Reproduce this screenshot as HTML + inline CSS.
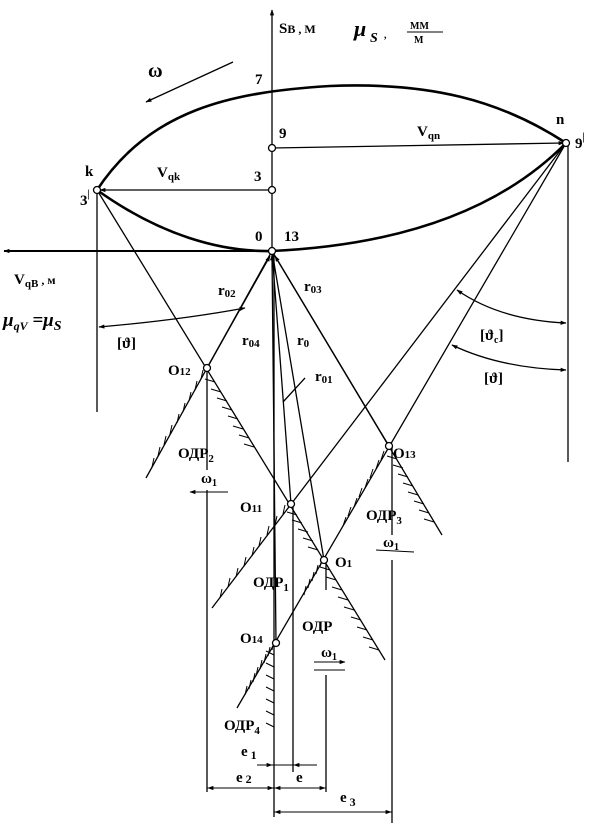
<!DOCTYPE html>
<html><head><meta charset="utf-8"><style>
html,body{margin:0;padding:0;background:#fff}
svg{display:block}
text{font-family:"Liberation Serif",serif;font-weight:bold;fill:#000}
</style></head><body>
<svg width="600" height="831" viewBox="0 0 600 831" xmlns="http://www.w3.org/2000/svg">
<defs>
<marker id="a" viewBox="0 0 10 10" refX="9" refY="5" markerUnits="userSpaceOnUse" markerWidth="11" markerHeight="6" orient="auto-start-reverse"><path d="M0,1.5 L10,5 L0,8.5 z" fill="#000"/></marker>
</defs>
<g stroke="#000" fill="none" stroke-width="1.3">
<line x1="272" y1="251" x2="272" y2="10" marker-end="url(#a)"/>
<line x1="272" y1="251" x2="4" y2="251" marker-end="url(#a)" stroke-width="2"/>
<line x1="274" y1="251" x2="274" y2="817"/>
<path d="M97,190 C150,110 230,92 330,86 C430,82 500,100 566,143" stroke-width="2.6"/>
<path d="M97,190 C160,235 220,252 272,251 C400,245 500,210 566,143" stroke-width="2.6"/>
<line x1="272" y1="148" x2="564" y2="143" marker-end="url(#a)"/>
<line x1="272" y1="190" x2="100" y2="190" marker-end="url(#a)"/>
<line x1="97" y1="190" x2="97" y2="412"/>
<line x1="568" y1="143" x2="568" y2="462"/>
<line x1="97" y1="190" x2="385" y2="660"/>
<line x1="272" y1="251" x2="146" y2="478"/>
<line x1="566" y1="143" x2="237" y2="708"/>
<line x1="566" y1="143" x2="212" y2="608"/>
<line x1="272" y1="251" x2="442" y2="535"/>
<line x1="272" y1="251" x2="324" y2="560"/>
<line x1="272" y1="251" x2="291" y2="504"/>
<line x1="276" y1="643" x2="272" y2="255" marker-end="url(#a)"/>
<line x1="207" y1="368" x2="270" y2="256" marker-end="url(#a)"/>
<line x1="389" y1="446" x2="275" y2="256" marker-end="url(#a)"/>
<line x1="283" y1="402" x2="305" y2="378"/>
<line x1="207" y1="368" x2="207" y2="470"/>
<line x1="207" y1="490" x2="207" y2="792"/>
<line x1="293" y1="504" x2="293" y2="772"/>
<line x1="326" y1="560" x2="326" y2="590"/>
<line x1="326" y1="675" x2="326" y2="792"/>
<line x1="392" y1="446" x2="392" y2="535"/>
<line x1="392" y1="560" x2="392" y2="823"/>
<line x1="233" y1="62" x2="146" y2="102" marker-end="url(#a)"/>
<path d="M99,327 Q180,320 245,308" marker-start="url(#a)" marker-end="url(#a)"/>
<path d="M457,290 Q500,320 566,323" marker-start="url(#a)" marker-end="url(#a)"/>
<path d="M452,345 Q500,368 566,370" marker-start="url(#a)" marker-end="url(#a)"/>
<g stroke-width="1">
<line x1="228" y1="492" x2="190" y2="492" marker-end="url(#a)"/>
<line x1="376" y1="550" x2="414" y2="552"/>
<line x1="314" y1="662" x2="345" y2="662" marker-end="url(#a)"/>
<line x1="314" y1="670" x2="345" y2="670"/>
<line x1="257" y1="765" x2="317" y2="765"/>
<line x1="258" y1="765" x2="272" y2="765" marker-end="url(#a)"/>
<line x1="310" y1="765" x2="294" y2="765" marker-end="url(#a)"/>
<line x1="207" y1="788" x2="326" y2="788"/>
<line x1="240" y1="788" x2="208" y2="788" marker-end="url(#a)"/>
<line x1="250" y1="788" x2="273" y2="788" marker-end="url(#a)"/>
<line x1="300" y1="788" x2="275" y2="788" marker-end="url(#a)"/>
<line x1="305" y1="788" x2="325" y2="788" marker-end="url(#a)"/>
<line x1="274" y1="812" x2="392" y2="812"/>
<line x1="300" y1="812" x2="275" y2="812" marker-end="url(#a)"/>
<line x1="365" y1="812" x2="391" y2="812" marker-end="url(#a)"/>
<!-- hatching -->
<path d="M201,379l2,-9M195,390l2,-9M189,401l2,-9M183,412l2,-9M177,423l2,-9M170,434l2,-9M164,445l2,-9M158,456l2,-9M152,467l2,-9
M215,382l-10,-3M221,392l-10,-3M227,401l-10,-3M232,410l-10,-3M238,419l-10,-3M243,429l-10,-3M249,438l-10,-3M254,447l-10,-3
M381,460l3,-9M376,469l3,-9M370,478l3,-9M365,488l3,-9M359,497l3,-9M354,507l3,-9M348,516l3,-9M343,526l3,-9
M397,459l-10,-3M403,468l-10,-3M408,477l-10,-3M413,486l-10,-3M418,495l-10,-3M424,504l-10,-3M429,513l-10,-3M434,522l-10,-3
M283,514l2,-9M275,525l2,-9M267,535l2,-9M259,546l2,-9M252,556l2,-9M244,566l2,-9M236,577l2,-9M228,587l2,-9M220,598l2,-9
M297,515l-10,-3M302,523l-10,-3M308,532l-10,-3M313,541l-10,-3M318,550l-10,-3
M330,570l-10,-3M336,580l-10,-3M342,590l-10,-3M348,600l-10,-3M354,610l-10,-3M361,620l-10,-3M367,630l-10,-3M373,640l-10,-3M379,650l-10,-3
M320,567l2,-9M316,574l2,-9M312,581l2,-9M308,588l2,-9M304,595l2,-9
M272,650l2,-9M268,656l2,-9M264,663l2,-9M260,669l2,-9M256,676l2,-9M253,682l2,-9M249,689l2,-9M245,695l2,-9
M274,655l-8,-4M274,667l-8,-4M274,679l-8,-4M274,691l-8,-4M274,703l-8,-4M274,715l-8,-4M274,727l-8,-4"/>
</g>
</g>
<g fill="#fff" stroke="#000" stroke-width="1.3">
<circle cx="272" cy="148" r="3.5"/><circle cx="272" cy="190" r="3.5"/>
<circle cx="97" cy="190" r="3.5"/><circle cx="566" cy="143" r="3.5"/>
<circle cx="272" cy="251" r="3.5"/><circle cx="207" cy="368" r="3.5"/>
<circle cx="291" cy="504" r="3.5"/><circle cx="324" cy="560" r="3.5"/>
<circle cx="389" cy="446" r="3.5"/><circle cx="276" cy="643" r="3.5"/>
</g>
<g font-size="15">
<text x="279" y="33">S<tspan font-size="12">В , М</tspan></text>
<text x="354" y="36" font-size="22" font-style="italic">μ</text>
<text x="370" y="42" font-size="14" font-style="italic">S</text>
<text x="384" y="38" font-size="10">,</text>
<text x="410" y="29" font-size="10">ММ</text>
<line x1="407" y1="32" x2="443" y2="32" stroke="#000"/>
<text x="414" y="43" font-size="10">М</text>
<text x="148" y="77" font-size="20">ω</text>
<text x="255" y="84" font-weight="normal">7</text>
<text x="279" y="138" font-weight="normal">9</text>
<text x="254" y="181" font-weight="normal">3</text>
<text x="417" y="136">V<tspan font-size="11" dy="3">qn</tspan></text>
<text x="556" y="124">n</text>
<text x="575" y="148" font-weight="normal">9<tspan font-size="10" dy="-8">|</tspan></text>
<text x="85" y="176">k</text>
<text x="157" y="177">V<tspan font-size="11" dy="3">qk</tspan></text>
<text x="80" y="205" font-weight="normal">3<tspan font-size="10" dy="-8">|</tspan></text>
<text x="255" y="241" font-weight="normal">0</text>
<text x="284" y="241" font-weight="normal">13</text>
<text x="14" y="284">V<tspan font-size="11" dy="3">qB</tspan><tspan font-size="12" dy="-3"> , м</tspan></text>
<text x="3" y="326" font-size="19" font-style="italic">μ<tspan font-size="12" dy="4">qV</tspan><tspan dy="-4"> =μ</tspan><tspan font-size="14" dy="4">S</tspan></text>
<text x="117" y="348" font-weight="normal">[ϑ]</text>
<text x="218" y="295">r<tspan font-size="11" dy="2">02</tspan></text>
<text x="304" y="291">r<tspan font-size="11" dy="2">03</tspan></text>
<text x="242" y="345">r<tspan font-size="11" dy="2">04</tspan></text>
<text x="297" y="345">r<tspan font-size="11" dy="2">0</tspan></text>
<text x="315" y="381">r<tspan font-size="11" dy="2">01</tspan></text>
<text x="168" y="375">O<tspan font-size="11">12</tspan></text>
<text x="480" y="340" font-weight="normal">[ϑ<tspan font-size="10" dy="3">c</tspan><tspan dy="-3">]</tspan></text>
<text x="484" y="383" font-weight="normal">[ϑ]</text>
<text x="178" y="458">ОДР<tspan font-size="11" dy="4">2</tspan></text>
<text x="201" y="483" font-weight="normal">ω<tspan font-size="10" dy="3">1</tspan></text>
<text x="240" y="512">O<tspan font-size="11">11</tspan></text>
<text x="393" y="458">O<tspan font-size="11">13</tspan></text>
<text x="366" y="520">ОДР<tspan font-size="11" dy="4">3</tspan></text>
<text x="383" y="547" font-weight="normal">ω<tspan font-size="10" dy="3">1</tspan></text>
<text x="335" y="567">O<tspan font-size="11">1</tspan></text>
<text x="253" y="587">ОДР<tspan font-size="11" dy="4">1</tspan></text>
<text x="302" y="631">ОДР</text>
<text x="240" y="643">O<tspan font-size="11">14</tspan></text>
<text x="321" y="657" font-weight="normal">ω<tspan font-size="10" dy="3">1</tspan></text>
<text x="224" y="730">ОДР<tspan font-size="11" dy="4">4</tspan></text>
<text x="241" y="756">e<tspan font-size="12" dy="3"> 1</tspan></text>
<text x="236" y="782">e<tspan font-size="12" dy="1"> 2</tspan></text>
<text x="296" y="782">e</text>
<text x="340" y="802">e<tspan font-size="12" dy="4"> 3</tspan></text>
</g>
</svg>
</body></html>
